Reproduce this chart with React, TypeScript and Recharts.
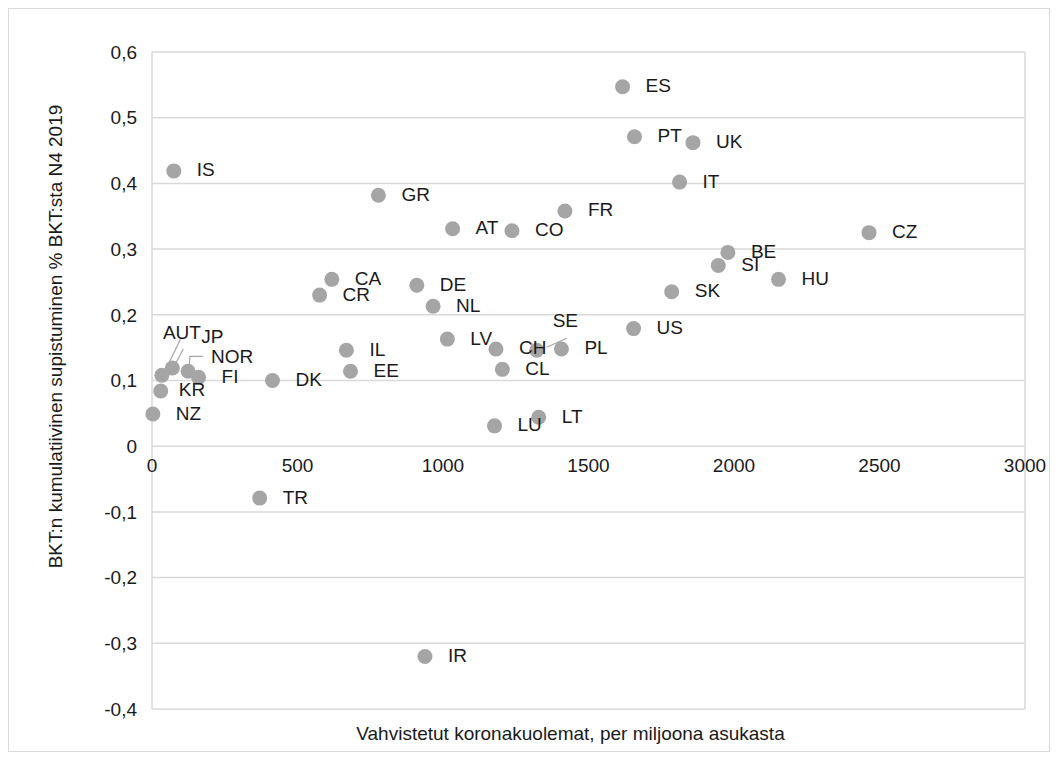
import React from 'react';
import { ScatterChart, Scatter, XAxis, YAxis, CartesianGrid, ReferenceDot } from 'recharts';

// Maat ja arvot luettu kuvasta
const countryCodes = [
  'ES', 'PT', 'UK', 'IS', 'IT', 'GR', 'FR', 'AT', 'CO', 'CZ', 'BE', 'SI', 'HU',
  'CA', 'DE', 'CR', 'SK', 'NL', 'US', 'LV', 'IL', 'CH', 'SE', 'PL', 'EE', 'CL',
  'DK', 'LU', 'LT', 'TR', 'IR', 'AUT', 'JP', 'NOR', 'FI', 'KR', 'NZ'
];
const deathsPerMillion = [
  1617, 1658, 1859, 75, 1813, 778, 1419, 1033, 1237, 2464, 1979, 1946, 2153,
  618, 910, 576, 1786, 966, 1655, 1015, 668, 1182, 1322, 1407, 682, 1204,
  414, 1177, 1329, 370, 938, 34, 70, 124, 160, 30, 3
];
const gdpContraction = [
  0.547, 0.471, 0.462, 0.419, 0.402, 0.382, 0.358, 0.331, 0.328, 0.325, 0.295, 0.275, 0.254,
  0.254, 0.245, 0.23, 0.235, 0.213, 0.179, 0.163, 0.146, 0.148, 0.146, 0.148, 0.114, 0.117,
  0.1, 0.031, 0.044, -0.079, -0.32, 0.108, 0.119, 0.114, 0.105, 0.084, 0.049
];
const xTicks = [0, 500, 1000, 1500, 2000, 2500, 3000];
const yTicks = [-0.4, -0.3, -0.2, -0.1, 0, 0.1, 0.2, 0.3, 0.4, 0.5, 0.6];

const xTitle = 'Vahvistetut koronakuolemat, per miljoona asukasta';
const yTitle = 'BKT:n kumulatiivinen supistuminen % BKT:sta N4 2019';

const data = countryCodes.map((code, i) => ({
  code,
  x: deathsPerMillion[i],
  y: gdpContraction[i]
}));

// label placement (relative to the marker), default is to the right
const labelPlacement: Record<string, { dx: number; dy: number; leader?: number[][] }> = {
  SE: { dx: 16, dy: -30, leader: [[30, -12], [10, -3]] },
  NOR: { dx: 23, dy: -15, leader: [[15, -15], [2, -15], [1, -5]] },
  KR: { dx: 18, dy: -2 },
  AUT: { dx: 1, dy: -43, leader: [[19, -37], [4, -6]] },
  JP: { dx: 29, dy: -32, leader: [[11, -19], [4, -6]] }
};

const TEXT = '#1a1a1a';
const GRID = '#d9d9d9';
const MARKER = '#a5a5a5';

const fmtY = (v: number) => (v === 0 ? '0' : v.toFixed(1).replace('.', ','));

const Marker = (props: any) => (
  <circle cx={props.cx} cy={props.cy} r={7.5} fill={MARKER} />
);

const Tag = (props: any) => {
  const { cx, cy, payload } = props;
  const p = labelPlacement[payload.code] ?? { dx: 23, dy: -1 };
  return (
    <g>
      {p.leader && (
        <polyline
          points={p.leader.map(([a, b]) => `${cx + a},${cy + b}`).join(' ')}
          fill="none"
          stroke={MARKER}
          strokeWidth={1.2}
        />
      )}
      <text x={cx + p.dx} y={cy + p.dy} dominantBaseline="central" fontSize={19} fill={TEXT}>
        {payload.code}
      </text>
    </g>
  );
};

export default function App() {
  return (
    <div
      style={{
        width: 1040,
        height: 742,
        border: `1px solid ${GRID}`,
        fontFamily: '"Liberation Sans", Arial, sans-serif',
        background: '#fff'
      }}
    >
      <ScatterChart width={1040} height={742} margin={{ top: 43, right: 24, bottom: 0, left: 0 }}>
        <CartesianGrid stroke={GRID} strokeWidth={1.5} />
        <XAxis
          type="number"
          dataKey="x"
          domain={[0, 3000]}
          ticks={xTicks}
          tick={false}
          tickLine={false}
          axisLine={false}
          height={42}
          label={{
            content: (lp: any) => (
              <text
                x={lp.viewBox.x + lp.viewBox.width / 2 - 18}
                y={lp.viewBox.y + 24}
                textAnchor="middle"
                dominantBaseline="central"
                fontSize={19}
                fill={TEXT}
              >
                {xTitle}
              </text>
            )
          }}
        />
        <YAxis
          type="number"
          dataKey="y"
          domain={[-0.4, 0.6]}
          ticks={yTicks}
          tickFormatter={fmtY}
          tick={{ fontSize: 19, fill: TEXT }}
          tickSize={0}
          tickMargin={15}
          tickLine={false}
          axisLine={false}
          width={143}
          label={{
            content: (lp: any) => {
              const cx = 46;
              const cy = lp.viewBox.y + lp.viewBox.height / 2 - 44;
              return (
                <text
                  x={cx}
                  y={cy}
                  transform={`rotate(-90, ${cx}, ${cy})`}
                  textAnchor="middle"
                  dominantBaseline="central"
                  fontSize={19}
                  fill={TEXT}
                >
                  {yTitle}
                </text>
              );
            }
          }}
        />
        {xTicks.map((t) => (
          <ReferenceDot
            key={t}
            x={t}
            y={0}
            r={0}
            fill="none"
            stroke="none"
            ifOverflow="visible"
            label={{
              content: (lp: any) => (
                <text
                  x={lp.viewBox.x + lp.viewBox.width / 2}
                  y={lp.viewBox.y + lp.viewBox.height / 2 + 26}
                  textAnchor="middle"
                  fontSize={19}
                  fill={TEXT}
                >
                  {t}
                </text>
              )
            }}
          />
        ))}
        <Scatter data={data} shape={Marker} isAnimationActive={false} />
        <Scatter data={data} shape={Tag} isAnimationActive={false} />
      </ScatterChart>
    </div>
  );
}
